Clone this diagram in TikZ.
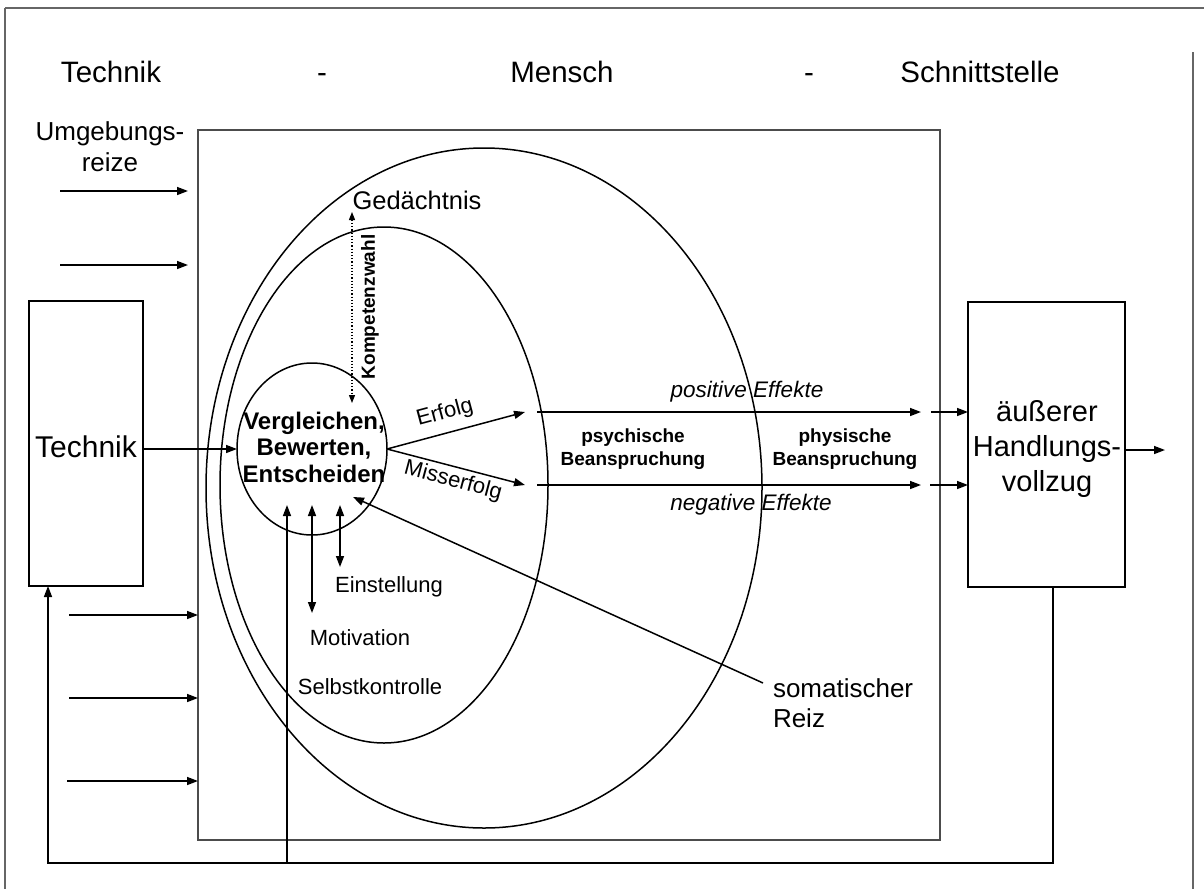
\documentclass[tikz,border=0pt]{standalone}
\usepackage{fontspec}
\setmainfont{Liberation Sans}
\usetikzlibrary{arrows.meta,shapes.geometric}
\begin{document}
\begin{tikzpicture}[x=1pt,y=-1pt,
  every node/.style={inner sep=0pt, outer sep=0pt, align=center},
  ln/.style={line width=1.5pt},
  tip/.style={-{Triangle[length=11pt,width=8pt]}},
  dtip/.style={{Triangle[length=11pt,width=8pt]}-{Triangle[length=11pt,width=8pt]}},
  hdr/.style={font=\fontsize{29.5}{35}\selectfont, anchor=base},
  umg/.style={font=\fontsize{26}{31}\selectfont},
  boxtxt/.style={font=\fontsize{29}{35}\selectfont},
  bold/.style={font=\fontsize{24}{26.5}\selectfont\bfseries},
  small/.style={font=\fontsize{22}{26}\selectfont},
  ital/.style={font=\fontsize{22.5}{26}\selectfont\itshape},
  strain/.style={font=\fontsize{19}{23}\selectfont\bfseries},
  sbox/.style={draw, line width=1.8pt, minimum width=114pt, minimum height=285pt},
  frame/.style={draw=black!70, line width=1.3pt}
]
\useasboundingbox (0,0) rectangle (1204,889);
% outer frame
\draw[black!60, line width=2pt] (5,8) -- (1204,8);
\draw[black!60, line width=1.3pt] (5,8) -- (5,889);
\draw[black!60, line width=1.3pt] (1193,52) -- (1193,889);
% header
\node[hdr] (h1) at (111,82) {Technik};
\node[hdr] (h2) at (322,82) {-};
\node[hdr] (h3) at (562,82) {Mensch};
\node[hdr] (h4) at (809,82) {-};
\node[hdr] (h5) at (980,82) {Schnittstelle};
\node[umg] (umg) at (110,147) {Umgebungs-\\reize};
% Mensch box
\node[frame, minimum width=742pt, minimum height=710pt] (mensch) at (569,485) {};
% ellipses
\node[draw, ln, ellipse, minimum width=556pt, minimum height=680pt] (outerell) at (484,488) {};
\node[draw, ln, ellipse, minimum width=328pt, minimum height=516pt] (innerell) at (384,485) {};
\node[draw, ln, ellipse, minimum width=150pt, minimum height=172pt] (circ) at (312,449) {};
\node[bold] (ctext) at (314,447) {Vergleichen,\\Bewerten,\\Entscheiden};
% boxes
\node[sbox] (techbox) at (86,443.5) {};
\node[font=\fontsize{30}{35}\selectfont] (techtxt) at (86,447) {Technik};
\node[sbox, minimum width=157pt] (hbox) at (1046.5,444.5) {};
\node[boxtxt] (htxt) at (1047,449) {äußerer\\Handlungs-\\vollzug};
% left input arrows
\coordinate (u1s) at (60,191); \coordinate (u1e) at (188,191);
\coordinate (u2s) at (60,265); \coordinate (u2e) at (188,265);
\coordinate (u3s) at (69,615); \coordinate (u4s) at (69,698); \coordinate (u5s) at (67,781);
\draw[ln, tip] (u1s) -- (u1e);
\draw[ln, tip] (u2s) -- (u2e);
\draw[ln, tip] (u3s) -- (u3s -| mensch.west);
\draw[ln, tip] (u4s) -- (u4s -| mensch.west);
\draw[ln, tip] (u5s) -- (u5s -| mensch.west);
% Technik -> circle
\draw[ln, tip] (techbox.east |- circ.west) -- (circ.west);
% Gedaechtnis / Kompetenzwahl
\node[font=\fontsize{25.5}{30}\selectfont] (ged) at (417,200) {Gedächtnis};
\coordinate (kt) at (352,212); \coordinate (kb) at (352,403);
\draw[line width=1.2pt, dotted, {Triangle[length=8pt,width=6pt]}-{Triangle[length=8pt,width=6pt]}] (kt) -- (kb);
\node[strain, rotate=90] (komp) at (370,307) {Kompetenzwahl};
% Erfolg / Misserfolg
\coordinate (et) at (525,412); \coordinate (mt) at (525,485);
\draw[ln, tip] (circ.east) -- (et);
\draw[ln, tip] (circ.east) -- (mt);
\node[small, rotate=15] (erf) at (445,413) {Erfolg};
\node[small, rotate=-15] (mis) at (453,481) {Misserfolg};
% effect lines
\coordinate (ps) at (537,412); \coordinate (pe) at (921,412); \coordinate (p2) at (931,412);
\coordinate (ns) at (537,485); \coordinate (ne) at (921,485); \coordinate (n2) at (930,485);
\draw[ln, tip] (ps) -- (pe);
\draw[ln, tip] (p2) -- (p2 -| hbox.west);
\draw[ln, tip] (ns) -- (ne);
\draw[ln, tip] (n2) -- (n2 -| hbox.west);
\node[ital] (pos) at (747,392) {positive Effekte};
\node[ital] (neg) at (751,505) {negative Effekte};
\node[strain] (psy) at (633,449) {psychische\\Beanspruchung};
\node[strain] (phy) at (845,449) {physische\\Beanspruchung};
% output arrow
\coordinate (out) at (1165,450);
\draw[ln, tip] (hbox.east |- out) -- (out);
% bottom arrows into circle
\coordinate (b1) at (287,505); \coordinate (fbM) at (287,863);
\coordinate (b2t) at (312,505); \coordinate (b2b) at (312,613);
\coordinate (b3t) at (340,505); \coordinate (b3b) at (340,567);
\draw[ln, dtip] (b2b) -- (b2t);
\draw[ln, dtip] (b3b) -- (b3t);
\node[small] (einst) at (389,587) {Einstellung};
\node[small] (motiv) at (360,638) {Motivation};
\node[small] (selbst) at (370,687) {Selbstkontrolle};
% somatic stimulus
\node[font=\fontsize{26}{30}\selectfont, align=left, anchor=west] (som) at (773,703) {somatischer\\Reiz};
\coordinate (sl) at (763,683); \coordinate (st) at (353,497);
\draw[ln, tip] (sl) -- (st);
% feedback loop
\coordinate (fbR) at (1053,863); \coordinate (fbL) at (48,863);
\draw[ln, tip] (hbox.south -| fbR) -- (fbR) -- (fbL) -- (techbox.south -| fbL);
\draw[ln, tip] (fbM) -- (b1);
\end{tikzpicture}
\end{document}
